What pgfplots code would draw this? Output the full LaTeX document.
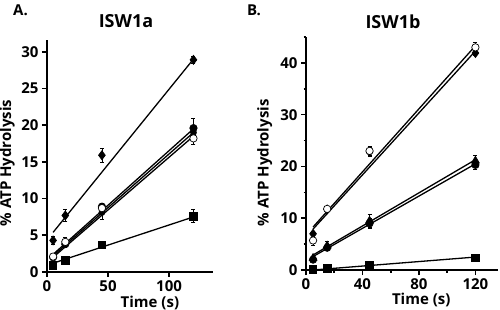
\documentclass[border=0pt]{standalone}
\usepackage{pgfplots}
\pgfplotsset{compat=1.18}
\usepackage{fontspec}
\setmainfont{Open Sans}
\begin{document}
\begin{tikzpicture}
\useasboundingbox (0pt,0pt) rectangle (500pt,310pt);
\pgfplotsset{
  panel/.style={
    scale only axis,
    axis lines=left,
    axis line style={line width=2pt,-},
    tick style={line width=1.6pt,black},
    tick align=outside,
    major tick length=5pt,
    minor tick length=2.5pt,
    tick label style={font=\bfseries\fontsize{15}{17}\selectfont},
    label style={font=\bfseries\fontsize{15}{17}\selectfont,inner sep=1pt},
    /pgf/number format/assume math mode=true,
    xlabel={Time (s)},
    ylabel={\% ATP Hydrolysis},
    clip=false,
  },
  fit/.style={black,line width=1.3pt,no marks},
  ser/.style={black,line width=0.7pt,only marks,
     error bars/y dir=both, error bars/y explicit,
     error bars/error bar style={line width=0.7pt,black},
     error bars/error mark options={rotate=90,mark size=2pt,line width=0.7pt,black}},
}
% Panel A
\begin{axis}[panel,at={(47pt,38pt)},anchor=south west,width=166pt,height=232pt,
  xmin=0,xmax=136,ymin=0,ymax=31.6,
  xtick={0,50,100},ytick={0,5,10,15,20,25,30},
  xlabel style={at={(axis description cs:0.62,0)},anchor=center,yshift=-31pt},
  ylabel style={at={(axis description cs:-0.24,0.47)},anchor=center}]
\addplot[fit] coordinates {(5,5.4) (120,29.0)};
\addplot[fit] coordinates {(5,2.4) (120,19.5)};
\addplot[fit] coordinates {(5,2.2) (120,19.0)};
\addplot[fit] coordinates {(5,2.0) (120,18.5)};
\addplot[fit] coordinates {(5,1.2) (120,7.5)};
\addplot[ser,mark=diamond*,mark size=4.5pt] coordinates {
 (5,4.3) +- (0,0.6) (15,7.7) +- (0,0.8) (45,15.9) +- (0,0.9) (120,28.9) +- (0,0.5)};
\addplot[ser,mark=*,mark size=3.7pt] coordinates {
 (5,2.0) +- (0,0.2) (15,3.8) +- (0,0.4) (45,8.9) +- (0,0.4) (120,19.6) +- (0,1.3)};
\addplot[ser,mark=*,mark size=3pt] coordinates {
 (45,8.1) +- (0,0.9) (120,19.0) +- (0,0.8)};
\addplot[ser,mark=*,mark size=3.7pt,fill=white] coordinates {
 (5,2.1) +- (0,0.3) (15,4.1) +- (0,0.6) (45,8.7) +- (0,0.4) (120,18.2) +- (0,0.8)};
\addplot[ser,mark=square*,mark size=3.7pt] coordinates {
 (5,0.9) +- (0,0.3) (15,1.6) +- (0,0.2) (45,3.7) +- (0,0.2) (120,7.6) +- (0,0.9)};
\end{axis}
% Panel B
\begin{axis}[panel,at={(306pt,40pt)},anchor=south west,width=192pt,height=233pt,
  xmin=0,xmax=136,ymin=0,ymax=45,
  xtick={0,40,80,120},ytick={0,10,20,30,40},
  minor xtick={20,60,100},minor ytick={5,15,25,35,45},
  xlabel style={at={(axis description cs:0.6,0)},anchor=center,yshift=-30pt},
  ylabel style={at={(axis description cs:-0.215,0.46)},anchor=center}]
\addplot[fit] coordinates {(5,8.3) (120,43.3)};
\addplot[fit] coordinates {(5,7.9) (120,42.3)};
\addplot[fit] coordinates {(5,2.9) (120,21.3)};
\addplot[fit] coordinates {(5,2.6) (120,20.5)};
\addplot[fit] coordinates {(5,0.0) (120,2.5)};
\addplot[ser,mark=diamond*,mark size=4.5pt] coordinates {
 (5,7.0) +- (0,0.4) (15,11.7) +- (0,0.4) (45,22.8) +- (0,0.8) (120,41.9) +- (0,0.5)};
\addplot[ser,mark=*,mark size=3.7pt,fill=white] coordinates {
 (5,5.7) +- (0,1.0) (15,11.8) +- (0,0.4) (45,23.0) +- (0,0.9) (120,43.0) +- (0,1.0)};
\addplot[ser,mark=triangle*,mark size=4.5pt] coordinates {
 (5,2.3) +- (0,0.4) (15,4.7) +- (0,0.8) (45,9.5) +- (0,1.2) (120,21.1) +- (0,1.1)};
\addplot[ser,mark=*,mark size=3.7pt] coordinates {
 (5,2.0) +- (0,0.3) (15,4.3) +- (0,0.5) (45,9.0) +- (0,0.9) (120,20.3) +- (0,0.8)};
\addplot[ser,mark=square*,mark size=3.7pt] coordinates {
 (5,0.1) +- (0,0.1) (15,0.3) +- (0,0.1) (45,0.9) +- (0,0.2) (120,2.4) +- (0,0.4)};
\end{axis}
\node[font=\bfseries\fontsize{15}{17}\selectfont,anchor=west,inner sep=0pt] at (13pt,300pt) {A.};
\node[font=\bfseries\fontsize{18}{20}\selectfont] at (126pt,289pt) {ISW1a};
\node[font=\bfseries\fontsize{15}{17}\selectfont,anchor=west,inner sep=0pt] at (247pt,300pt) {B.};
\node[font=\bfseries\fontsize{18}{20}\selectfont] at (393pt,288pt) {ISW1b};
\end{tikzpicture}
\end{document}
